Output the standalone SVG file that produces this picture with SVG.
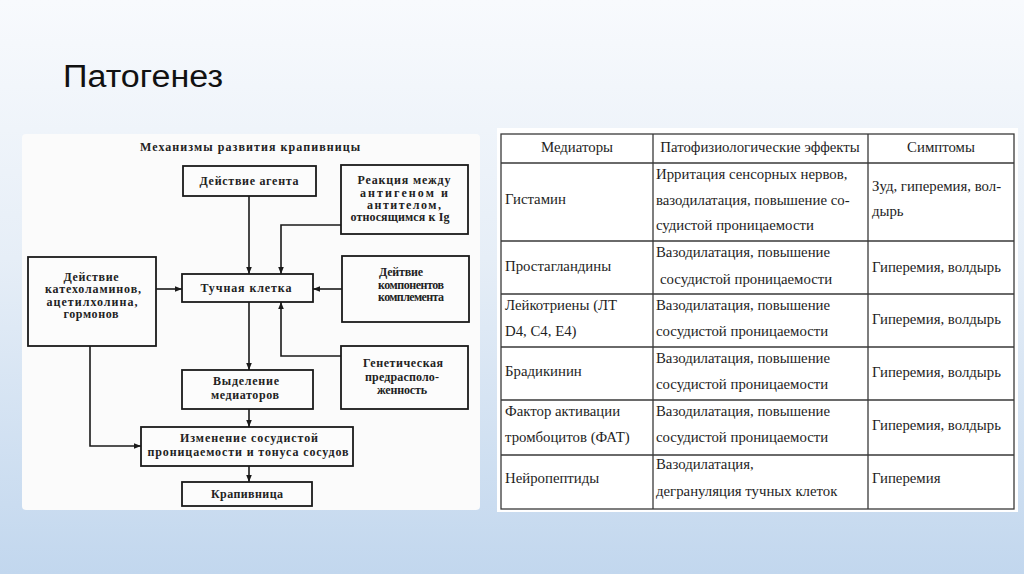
<svg xmlns="http://www.w3.org/2000/svg" width="1024" height="574" viewBox="0 0 1024 574">
  <defs>
    <linearGradient id="bg" x1="0" y1="0" x2="0" y2="1">
      <stop offset="0" stop-color="#f8fafd"/>
      <stop offset="0.45" stop-color="#e6eef7"/>
      <stop offset="1" stop-color="#c2d7ee"/>
    </linearGradient>
    <marker id="ah" viewBox="0 0 10 10" refX="10" refY="5" markerWidth="7" markerHeight="7" orient="auto" markerUnits="userSpaceOnUse">
      <path d="M0,1 L10,5 L0,9 Z" fill="#1a1a1a"/>
    </marker>
    <style>
      .box { fill: #fcfcfc; stroke: #1a1a1a; stroke-width: 1.8; }
      .bt { font-family: "Liberation Serif", "DejaVu Serif", serif; font-weight: bold; font-size: 12px; fill: #222; text-anchor: middle; }
      .con { fill: none; stroke: #1a1a1a; stroke-width: 1.6; marker-end: url(#ah); }
      .grid { stroke: #3a3a3a; stroke-width: 1.3; fill: none; }
      .tt { font-family: "Liberation Serif", "Times New Roman", serif; font-size: 14.8px; fill: #1e1e1e; }
      .th { text-anchor: middle; }
    </style>
  </defs>

  <rect x="0" y="0" width="1024" height="574" fill="url(#bg)"/>

  <text x="63" y="87" font-family="Liberation Sans, Arial, sans-serif" font-size="31" fill="#111" textLength="160" lengthAdjust="spacingAndGlyphs">Патогенез</text>

  <!-- Left flowchart panel -->
  <rect x="22" y="134" width="458" height="376" rx="4" fill="#fbfbfb"/>
  <text class="bt" x="250" y="151" textLength="220">Механизмы развития крапивницы</text>

  <g id="connectors">
    <path class="con" d="M249,196 V274"/>
    <path class="con" d="M341,225 H281 V274"/>
    <path class="con" d="M156,289 H182"/>
    <path class="con" d="M342,289 H313"/>
    <path class="con" d="M341,356 H281 V302"/>
    <path class="con" d="M249,302 V370"/>
    <path class="con" d="M249,409 V427"/>
    <path class="con" d="M249,466 V482"/>
    <path class="con" d="M90,346 V446 H141"/>
  </g>

  <g id="agent">
    <rect class="box" x="183" y="166" width="133" height="30"/>
    <text class="bt" x="249" y="185" textLength="99">Действие агента</text>
  </g>
  <g id="reaction">
    <rect class="box" x="341" y="165" width="127" height="69"/>
    <text class="bt" x="404" y="184" textLength="93">Реакция между</text>
    <text class="bt" x="404" y="197" textLength="88">антигеном и</text>
    <text class="bt" x="404" y="209" textLength="74">антителом,</text>
    <text class="bt" x="400" y="221" textLength="99">относящимся к Ig</text>
  </g>
  <g id="catechol">
    <rect class="box" x="28" y="257" width="128" height="89"/>
    <text class="bt" x="91" y="281" textLength="55">Действие</text>
    <text class="bt" x="93" y="293" textLength="96">катехоламинов,</text>
    <text class="bt" x="92" y="306" textLength="91">ацетилхолина,</text>
    <text class="bt" x="91" y="318" textLength="55">гормонов</text>
  </g>
  <g id="mastcell">
    <rect class="box" x="182" y="274" width="131" height="28"/>
    <text class="bt" x="246" y="292" textLength="91">Тучная клетка</text>
  </g>
  <g id="complement">
    <rect class="box" x="342" y="256" width="127" height="66"/>
    <text class="bt" x="401" y="276" textLength="44">Дейтвие</text>
    <text class="bt" x="411" y="289" textLength="66">компонентов</text>
    <text class="bt" x="411" y="301" textLength="66">комплемента</text>
  </g>
  <g id="genetic">
    <rect class="box" x="341" y="346" width="127" height="63"/>
    <text class="bt" x="403" y="367" textLength="80">Генетическая</text>
    <text class="bt" x="402" y="381" textLength="74">предрасполо-</text>
    <text class="bt" x="402" y="394" textLength="50">женность</text>
  </g>
  <g id="release">
    <rect class="box" x="182" y="370" width="131" height="39"/>
    <text class="bt" x="246" y="385" textLength="66">Выделение</text>
    <text class="bt" x="245" y="399" textLength="68">медиаторов</text>
  </g>
  <g id="change">
    <rect class="box" x="141" y="427" width="212" height="39"/>
    <text class="bt" x="249" y="442" textLength="138">Изменение сосудистой</text>
    <text class="bt" x="248" y="456" textLength="201">проницаемости и тонуса сосудов</text>
  </g>
  <g id="urticaria">
    <rect class="box" x="182" y="482" width="130" height="24"/>
    <text class="bt" x="247" y="498" textLength="72">Крапивница</text>
  </g>

  <!-- Table panel -->
  <g id="table">
    <rect x="497" y="128" width="521" height="384" fill="#ffffff"/>
    <rect class="grid" x="501" y="134" width="513" height="375"/>
    <path class="grid" d="M653,134 V509 M868,134 V509 M501,163 H1014 M501,241 H1014 M501,294 H1014 M501,347 H1014 M501,400 H1014 M501,455 H1014"/>

    <text class="tt th" x="577" y="152">Медиаторы</text>
    <text class="tt th" x="760" y="152">Патофизиологические эффекты</text>
    <text class="tt th" x="941" y="152">Симптомы</text>

    <text class="tt" x="505" y="204">Гистамин</text>
    <text class="tt" x="656" y="179">Ирритация сенсорных нервов,</text>
    <text class="tt" x="656" y="205">вазодилатация, повышение со-</text>
    <text class="tt" x="656" y="230">судистой проницаемости</text>
    <text class="tt" x="872" y="191">Зуд, гиперемия, вол-</text>
    <text class="tt" x="872" y="216">дырь</text>

    <text class="tt" x="505" y="271">Простагландины</text>
    <text class="tt" x="656" y="257">Вазодилатация, повышение</text>
    <text class="tt" x="660" y="284">сосудистой проницаемости</text>
    <text class="tt" x="872" y="272">Гиперемия, волдырь</text>

    <text class="tt" x="505" y="310">Лейкотриены (ЛТ</text>
    <text class="tt" x="505" y="336">D4, C4, E4)</text>
    <text class="tt" x="656" y="310">Вазодилатация, повышение</text>
    <text class="tt" x="656" y="336">сосудистой проницаемости</text>
    <text class="tt" x="872" y="324">Гиперемия, волдырь</text>

    <text class="tt" x="505" y="376">Брадикинин</text>
    <text class="tt" x="656" y="363">Вазодилатация, повышение</text>
    <text class="tt" x="656" y="389">сосудистой проницаемости</text>
    <text class="tt" x="872" y="377">Гиперемия, волдырь</text>

    <text class="tt" x="505" y="416">Фактор активации</text>
    <text class="tt" x="505" y="442">тромбоцитов (ФАТ)</text>
    <text class="tt" x="656" y="416">Вазодилатация, повышение</text>
    <text class="tt" x="656" y="442">сосудистой проницаемости</text>
    <text class="tt" x="872" y="430">Гиперемия, волдырь</text>

    <text class="tt" x="505" y="483">Нейропептиды</text>
    <text class="tt" x="656" y="469">Вазодилатация,</text>
    <text class="tt" x="656" y="496">дегрануляция тучных клеток</text>
    <text class="tt" x="872" y="483">Гиперемия</text>
  </g>
</svg>
